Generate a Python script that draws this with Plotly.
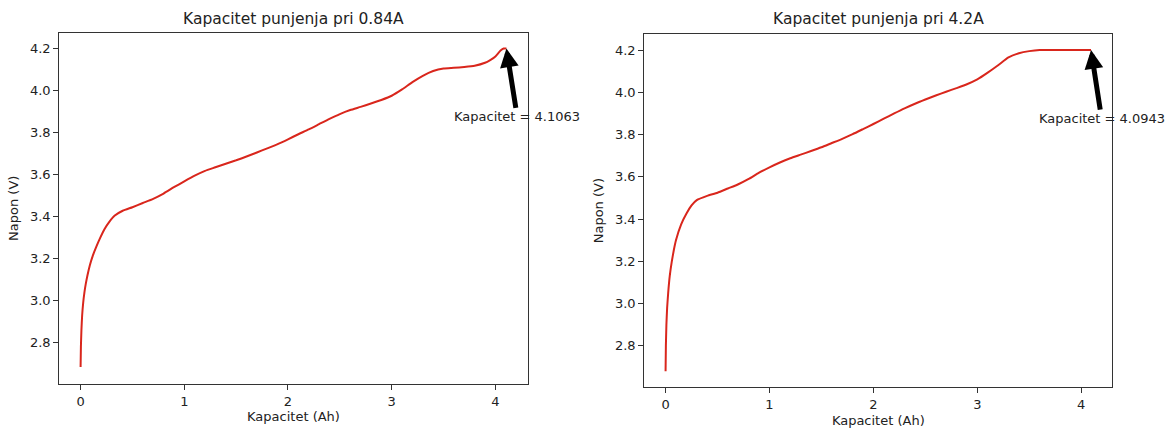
import plotly.graph_objects as go

# ---- data ----
cap_084 = [0.0, 0.003, 0.008, 0.015, 0.025, 0.037, 0.05, 0.066, 0.09, 0.118, 0.15, 0.19, 0.23, 0.277, 0.33, 0.406,
           0.5, 0.6, 0.7, 0.8, 0.9, 1.0, 1.1, 1.2, 1.3, 1.4, 1.5, 1.6, 1.7, 1.8, 1.9, 2.0,
           2.1, 2.2, 2.3, 2.4, 2.5, 2.6, 2.7, 2.8, 2.9, 3.0, 3.1, 3.2, 3.3, 3.4, 3.5, 3.6,
           3.7, 3.8, 3.9, 3.95, 4.0, 4.05, 4.08, 4.1063]
volt_084 = [2.685, 2.78, 2.86, 2.93, 2.99, 3.04, 3.08, 3.12, 3.17, 3.215, 3.255, 3.3, 3.34, 3.375, 3.405, 3.428,
            3.445, 3.465, 3.485, 3.51, 3.54, 3.568, 3.595, 3.618, 3.635, 3.652, 3.668, 3.686, 3.705, 3.725, 3.745, 3.768,
            3.792, 3.815, 3.84, 3.865, 3.888, 3.907, 3.922, 3.938, 3.955, 3.975, 4.005, 4.04, 4.07, 4.093, 4.105, 4.108,
            4.112, 4.118, 4.132, 4.145, 4.162, 4.19, 4.2, 4.2]

cap_42 = [0.0, 0.003, 0.008, 0.015, 0.025, 0.04, 0.06, 0.08, 0.1, 0.15, 0.2, 0.25, 0.3, 0.4, 0.5, 0.6, 0.7, 0.8,
          0.9, 1.0, 1.1, 1.2, 1.3, 1.4, 1.5, 1.6, 1.7, 1.8, 1.9, 2.0, 2.1, 2.2, 2.3, 2.4, 2.5,
          2.6, 2.7, 2.8, 2.9, 3.0, 3.1, 3.2, 3.3, 3.4, 3.5, 3.6, 3.8, 4.0, 4.0943]
volt_42 = [2.68, 2.8, 2.9, 2.98, 3.05, 3.13, 3.2, 3.255, 3.3, 3.375, 3.425, 3.465, 3.49, 3.51, 3.525, 3.545, 3.565, 3.59,
           3.62, 3.645, 3.668, 3.688, 3.705, 3.722, 3.74, 3.76, 3.78, 3.802, 3.826, 3.85, 3.875, 3.9, 3.924, 3.946, 3.966,
           3.985, 4.003, 4.02, 4.038, 4.061, 4.093, 4.128, 4.165, 4.185, 4.195, 4.2, 4.2, 4.2, 4.2]

titles = ["Kapacitet punjenja pri 0.84A", "Kapacitet punjenja pri 4.2A"]
cap_labels = ["Kapacitet = 4.1063", "Kapacitet = 4.0943"]
x_ticks = [0, 1, 2, 3, 4]
y_ticks = [2.8, 3.0, 3.2, 3.4, 3.6, 3.8, 4.0, 4.2]
y_ticktext = ["2.8", "3.0", "3.2", "3.4", "3.6", "3.8", "4.0", "4.2"]

W, H = 1174, 432
FONT = "DejaVu Sans"
TXT = "#222222"
AX = "#333333"
RED = "#d9261c"

fig = go.Figure()
fig.add_trace(go.Scatter(x=cap_084, y=volt_084, mode="lines", line=dict(color=RED, width=2, shape="spline", smoothing=0.5),
                         xaxis="x", yaxis="y", showlegend=False))
fig.add_trace(go.Scatter(x=cap_42, y=volt_42, mode="lines", line=dict(color=RED, width=2, shape="spline", smoothing=0.5),
                         xaxis="x2", yaxis="y2", showlegend=False))

# pixel boxes: (left, right, top, bottom)
boxes = [(59.3, 527.7, 32.5, 384.0), (644.3, 1112.3, 34.0, 387.3)]

def axis_common():
    return dict(showline=True, mirror=True, linecolor=AX, linewidth=1.2, ticks="outside", ticklen=5,
                tickcolor=AX, tickwidth=1, showgrid=False, zeroline=False, automargin=False,
                tickfont=dict(family=FONT, size=13, color=TXT))

xr = [(-0.2053, 4.3116), (-0.2047, 4.2990)]
yr = [(2.6041, 4.2759), (2.6040, 4.2760)]

for i, (l, r, t, b) in enumerate(boxes):
    sx = "" if i == 0 else "2"
    xa = axis_common()
    xa.update(domain=[l / W, r / W], anchor="y" + sx, range=list(xr[i]), tickvals=x_ticks,
              title=dict(text="Kapacitet (Ah)", font=dict(family=FONT, size=13, color=TXT), standoff=4))
    ya = axis_common()
    ya.update(domain=[1 - b / H, 1 - t / H], anchor="x" + sx, range=list(yr[i]), tickvals=y_ticks,
              ticktext=y_ticktext,
              title=dict(text="Napon (V)", font=dict(family=FONT, size=13, color=TXT), standoff=8))
    fig.layout["xaxis" + sx] = xa
    fig.layout["yaxis" + sx] = ya

annotations = []
for i, (l, r, t, b) in enumerate(boxes):
    annotations.append(dict(text=titles[i], x=(l + r) / 2 / W, y=1 - 19.5 / H, xref="paper", yref="paper",
                            xanchor="center", yanchor="middle", showarrow=False,
                            font=dict(family=FONT, size=15.5, color=TXT)))
sx_list = ["", "2"]
pts = [(cap_084[-1], volt_084[-1]), (cap_42[-1], volt_42[-1])]
txt_pos = [(4.211, 3.875), (4.196, 3.875)]
for i in range(2):
    sx = sx_list[i]
    annotations.append(dict(text=cap_labels[i], x=pts[i][0], y=pts[i][1], xref="x" + sx, yref="y" + sx,
                            ax=txt_pos[i][0], ay=txt_pos[i][1], axref="x" + sx, ayref="y" + sx,
                            showarrow=True, arrowhead=2, arrowsize=0.75, arrowwidth=5, arrowcolor="black",
                            standoff=0, startstandoff=0, bgcolor="rgba(0,0,0,0)",
                            font=dict(family=FONT, size=13, color=TXT)))
fig.update_layout(annotations=annotations, width=W, height=H, margin=dict(l=0, r=0, t=0, b=0),
                  paper_bgcolor="white", plot_bgcolor="white", showlegend=False)

fig.write_html("out.html", config={"displayModeBar": False},
               post_script="document.body.style.margin='0';document.body.style.overflow='hidden';")
